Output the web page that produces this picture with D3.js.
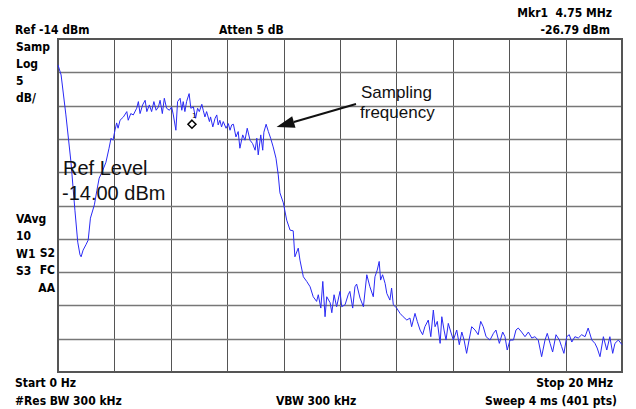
<!DOCTYPE html>
<html>
<head>
<meta charset="utf-8">
<script src="https://cdn.jsdelivr.net/npm/d3@7"></script>
<style>
  body { margin: 0; background: #fff; }
  .lbl { font-family: "Liberation Sans Narrow", "Arial Narrow", "DejaVu Sans Condensed", sans-serif; font-weight: bold; font-size: 12px; fill: #000; white-space: pre; }
  .note { font-family: "Liberation Sans", Arial, sans-serif; fill: #111; }
</style>
</head>
<body>
<div id="chart"></div>
<script>
// trace (MHz, dBm)
const freqMHz = [
  0.00, 0.11, 0.28, 0.46, 0.60, 0.70, 0.78, 0.82, 0.89, 0.99,
  1.07, 1.15, 1.29, 1.38, 1.46, 1.59, 1.70, 1.81, 1.88, 1.95,
  2.02, 2.08, 2.13, 2.20, 2.32, 2.44, 2.49, 2.58, 2.67, 2.79,
  2.85, 2.91, 3.00, 3.09, 3.15, 3.24, 3.32, 3.40, 3.48, 3.56,
  3.62, 3.70, 3.77, 3.85, 3.95, 4.03, 4.09, 4.18, 4.24, 4.33,
  4.39, 4.44, 4.50, 4.56, 4.65, 4.71, 4.80, 4.88, 4.95, 5.01,
  5.10, 5.15, 5.21, 5.27, 5.37, 5.41, 5.49, 5.57, 5.63, 5.68,
  5.74, 5.80, 5.86, 5.96, 6.04, 6.10, 6.16, 6.22, 6.31, 6.39,
  6.45, 6.55, 6.63, 6.71, 6.81, 6.90, 6.99, 7.05, 7.10, 7.19,
  7.26, 7.30, 7.38, 7.46, 7.54, 7.63, 7.73, 7.81, 7.87, 7.99,
  8.11, 8.23, 8.34, 8.40, 8.52, 8.58, 8.70, 8.82, 8.94, 9.05,
  9.17, 9.23, 9.32, 9.39, 9.47, 9.53, 9.65, 9.71, 9.79, 9.88,
  10.00, 10.06, 10.18, 10.29, 10.35, 10.45, 10.53, 10.59, 10.71, 10.83,
  10.95, 11.06, 11.18, 11.24, 11.32, 11.39, 11.44, 11.51, 11.60, 11.66,
  11.77, 11.83, 11.89, 12.01, 12.13, 12.24, 12.37, 12.48, 12.54, 12.66,
  12.74, 12.84, 12.93, 13.01, 13.13, 13.22, 13.31, 13.37, 13.45, 13.55,
  13.61, 13.69, 13.76, 13.84, 13.93, 14.02, 14.14, 14.23, 14.32, 14.40,
  14.49, 14.59, 14.67, 14.79, 14.90, 14.99, 15.08, 15.18, 15.32, 15.44,
  15.53, 15.65, 15.77, 15.85, 15.93, 16.03, 16.15, 16.24, 16.32, 16.44,
  16.56, 16.68, 16.80, 16.91, 17.03, 17.15, 17.27, 17.35, 17.45, 17.54,
  17.66, 17.78, 17.86, 17.94, 18.04, 18.13, 18.22, 18.33, 18.45, 18.57,
  18.69, 18.80, 18.93, 19.04, 19.12, 19.22, 19.34, 19.46, 19.57, 19.67,
  19.75, 19.87, 20.00
];
const levelDbm = [
  -17.9, -19.4, -25.4, -32.5, -39.7, -44.5, -46.4, -46.7, -45.7, -44.9,
  -44.2, -40.9, -38.9, -36.7, -34.9, -33.7, -32.5, -30.4, -28.9, -29.2,
  -27.7, -26.6, -27.4, -26.2, -25.7, -24.9, -26.2, -25.2, -25.4, -24.4,
  -23.4, -25.2, -23.9, -23.2, -24.9, -23.9, -24.9, -23.4, -24.7, -24.2,
  -23.2, -25.2, -22.9, -24.4, -24.7, -24.2, -25.4, -27.7, -23.4, -22.9,
  -24.7, -23.4, -24.9, -23.4, -22.2, -24.4, -24.2, -25.9, -24.4, -24.9,
  -23.8, -24.7, -25.7, -24.9, -26.4, -25.7, -27.2, -25.9, -25.4, -26.9,
  -26.2, -27.2, -26.4, -27.4, -26.7, -27.7, -26.9, -26.8, -28.7, -27.9,
  -30.4, -28.4, -29.2, -27.4, -29.2, -29.7, -30.7, -28.9, -31.4, -28.4,
  -30.7, -28.0, -26.8, -27.9, -28.9, -30.2, -31.9, -34.4, -37.1, -38.6,
  -41.2, -42.7, -42.8, -46.7, -45.4, -47.2, -49.7, -50.4, -51.2, -52.7,
  -53.4, -52.4, -54.4, -50.4, -55.7, -52.7, -53.6, -55.1, -52.4, -54.2,
  -51.9, -54.2, -53.9, -52.4, -51.9, -54.4, -51.2, -50.8, -52.9, -54.2,
  -49.4, -51.2, -52.7, -49.7, -48.7, -47.4, -50.2, -49.4, -50.7, -52.2,
  -53.2, -51.4, -53.9, -54.4, -55.2, -55.7, -56.2, -55.9, -57.2, -55.2,
  -56.4, -57.7, -58.4, -57.2, -56.2, -58.7, -54.7, -57.2, -56.4, -59.7,
  -55.7, -57.7, -59.2, -56.7, -58.0, -59.2, -57.7, -59.9, -58.0, -59.2,
  -61.2, -58.9, -57.2, -57.7, -58.4, -56.4, -57.2, -58.7, -59.2, -58.2,
  -57.7, -59.7, -58.0, -58.7, -60.7, -59.2, -59.2, -57.7, -57.4, -58.0,
  -58.7, -58.0, -58.9, -58.7, -59.2, -61.7, -59.2, -58.2, -59.7, -61.0,
  -58.4, -59.2, -60.2, -61.2, -58.7, -58.4, -59.5, -58.7, -58.9, -58.4,
  -58.7, -57.4, -59.2, -59.7, -60.4, -61.7, -58.7, -60.7, -58.7, -61.2,
  -59.7, -59.2, -59.9
];

const refLevel = -14;     // dBm, top of screen
const dbPerDiv = 5;
const nDiv = 10;
const startMHz = 0, stopMHz = 20;
const markerFreq = 4.75, markerDbm = -26.79;
const samplingFreq = 7.75, samplingDbm = -27.2;  // arrow tip

const topLeft = ["Samp", "Log", "5", "dB/"];
const sideLeft = ["VAvg", "10", "W1", "S3"];
const sideRight = ["S2", "FC", "AA"];

const W = 636, H = 409;
const L = 58, R = 622, T = 39, B = 372;

const svg = d3.select("#chart").append("svg")
  .attr("width", W).attr("height", H);

const x = d3.scaleLinear().domain([startMHz, stopMHz]).range([L, R]);
const y = d3.scaleLinear().domain([refLevel - nDiv * dbPerDiv, refLevel]).range([B, T]);

const xDivs = d3.range(1, nDiv).map(i => startMHz + i * (stopMHz - startMHz) / nDiv);
const yDivs = d3.range(1, nDiv).map(i => refLevel - i * dbPerDiv);

// graticule
svg.append("g").selectAll("line").data(xDivs).join("line")
  .attr("x1", d => Math.round(x(d)) + 0.5).attr("x2", d => Math.round(x(d)) + 0.5)
  .attr("y1", T).attr("y2", B)
  .attr("stroke", "#555").attr("stroke-width", 1);
svg.append("g").selectAll("line").data(yDivs).join("line")
  .attr("x1", L).attr("x2", R)
  .attr("y1", d => Math.round(y(d)) + 0.5).attr("y2", d => Math.round(y(d)) + 0.5)
  .attr("stroke", "#777").attr("stroke-width", 1.5);
svg.append("rect")
  .attr("x", L).attr("y", T).attr("width", R - L).attr("height", B - T)
  .attr("fill", "none").attr("stroke", "#555").attr("stroke-width", 2);

// trace
const line = d3.line().x((d, i) => x(freqMHz[i])).y(d => y(d));
svg.append("path")
  .datum(levelDbm)
  .attr("d", line)
  .attr("fill", "none")
  .attr("stroke", "#2a2af5")
  .attr("stroke-width", 1);

// marker
const mx = x(markerFreq), my = y(markerDbm);
svg.append("path")
  .attr("d", `M${mx},${my - 4}L${mx + 4},${my}L${mx},${my + 4}L${mx - 4},${my}Z`)
  .attr("fill", "#fff").attr("stroke", "#000").attr("stroke-width", 1.5);
svg.append("text").attr("x", mx).attr("y", my - 6)
  .attr("font-size", 7).attr("font-family", "DejaVu Sans").text("1");

// annotations
svg.append("text").attr("class", "note").attr("font-size", 20)
  .attr("x", 63).attr("y", 175).text("Ref Level");
svg.append("text").attr("class", "note").attr("font-size", 20)
  .attr("x", 62).attr("y", 200).text("-14.00 dBm");
svg.append("text").attr("class", "note").attr("font-size", 17)
  .attr("x", 361).attr("y", 98).text("Sampling");
svg.append("text").attr("class", "note").attr("font-size", 17)
  .attr("x", 360).attr("y", 118).text("frequency");

const tx = x(samplingFreq), ty = y(samplingDbm);
const sx = 356, sy = 104;
const ang = Math.atan2(ty - sy, tx - sx);
const hl = 18, hw = 6;
const bx = tx - hl * Math.cos(ang), by = ty - hl * Math.sin(ang);
svg.append("line").attr("x1", sx).attr("y1", sy).attr("x2", bx).attr("y2", by)
  .attr("stroke", "#111").attr("stroke-width", 2);
svg.append("path")
  .attr("d", `M${tx},${ty}L${bx + hw * Math.sin(ang)},${by - hw * Math.cos(ang)}L${bx - hw * Math.sin(ang)},${by + hw * Math.cos(ang)}Z`)
  .attr("fill", "#111");

// screen labels
function lbl(t, px, py, anchor) {
  svg.append("text").attr("class", "lbl")
    .attr("x", px).attr("y", py)
    .attr("text-anchor", anchor || "start")
    .text(t);
}
lbl("Mkr1  4.75 MHz", 612, 17, "end");
lbl("Ref -14 dBm", 15, 34);
lbl("Atten 5 dB", 219, 34);
lbl("-26.79 dBm", 610, 34, "end");
topLeft.forEach((t, i) => lbl(t, 16, 51 + i * 17));
sideLeft.forEach((t, i) => lbl(t, 16, 223 + i * 17.3));
sideRight.forEach((t, i) => lbl(t, 55, 257 + i * 17.3, "end"));
lbl("Start 0 Hz", 15, 387);
lbl("Stop 20 MHz", 613, 387, "end");
lbl("#Res BW 300 kHz", 15, 405);
lbl("VBW 300 kHz", 276, 405);
lbl("Sweep 4 ms (401 pts)", 617, 405, "end");
</script>
</body>
</html>
